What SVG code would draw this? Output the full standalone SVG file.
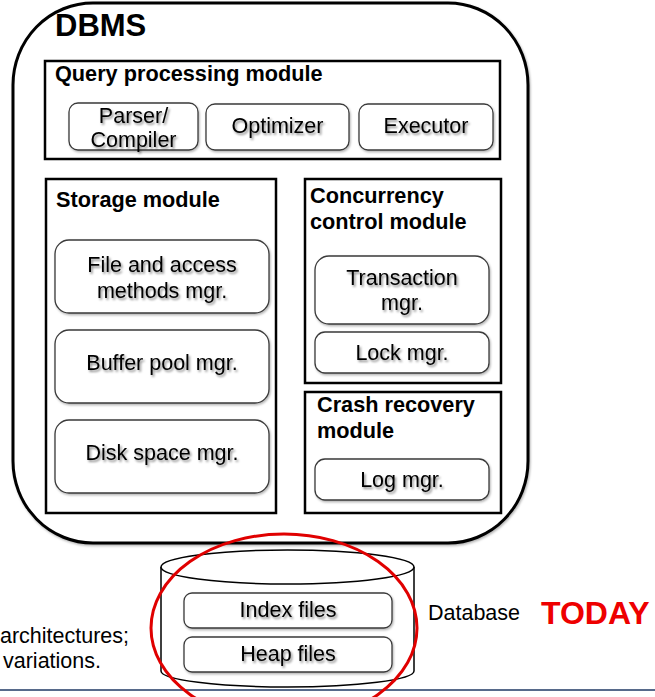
<svg xmlns="http://www.w3.org/2000/svg" width="655" height="697" viewBox="0 0 655 697">
<defs>
<filter id="ts" x="-10%" y="-30%" width="130%" height="170%">
<feDropShadow dx="1.5" dy="2" stdDeviation="1" flood-color="#000" flood-opacity="0.45"/>
</filter>
<filter id="bs" x="-5%" y="-10%" width="115%" height="130%">
<feDropShadow dx="1" dy="1.5" stdDeviation="1" flood-color="#000" flood-opacity="0.3"/>
</filter>
</defs>
<style>
text{font-family:"Liberation Sans",Arial,sans-serif;fill:#000}
.title{font-weight:bold;font-size:21.7px}
.lbl{font-size:21.5px;text-anchor:middle;filter:url(#ts)}
.mod{fill:#fff;stroke:#000;stroke-width:2.5}
.box{fill:#fff;stroke:#3a3a3a;stroke-width:1.3;filter:url(#bs)}
.plain{font-size:21.5px}
</style>
<rect width="655" height="697" fill="#fff"/>

<g id="dbms">
<rect x="13" y="3" width="515" height="540" rx="80" ry="82" fill="#fff" stroke="#000" stroke-width="3" filter="url(#bs)"/>
<text x="55" y="36" style="font-weight:bold;font-size:31px">DBMS</text>
</g>

<g id="query-module">
<rect class="mod" x="45" y="61" width="455" height="98"/>
<text class="title" x="55" y="81">Query processing module</text>
</g>
<g id="parser">
<rect class="box" x="69" y="103" width="129" height="47" rx="9"/>
<text class="lbl" x="133.5" y="123">Parser/</text>
<text class="lbl" x="133.5" y="147">Compiler</text>
</g>
<g id="optimizer">
<rect class="box" x="206" y="104" width="143" height="46" rx="9"/>
<text class="lbl" x="277.5" y="133">Optimizer</text>
</g>
<g id="executor">
<rect class="box" x="359" y="104" width="134" height="46" rx="9"/>
<text class="lbl" x="426" y="133">Executor</text>
</g>

<g id="storage-module">
<rect class="mod" x="46" y="179" width="230" height="334"/>
<text class="title" x="56" y="207">Storage module</text>
</g>
<g id="file-access">
<rect class="box" x="55" y="240" width="214" height="73" rx="14"/>
<text class="lbl" x="162" y="272">File and access</text>
<text class="lbl" x="162" y="298">methods mgr.</text>
</g>
<g id="buffer-pool">
<rect class="box" x="55" y="330" width="214" height="73" rx="14"/>
<text class="lbl" x="162" y="370">Buffer pool mgr.</text>
</g>
<g id="disk-space">
<rect class="box" x="55" y="420" width="214" height="73" rx="14"/>
<text class="lbl" x="162" y="460">Disk space mgr.</text>
</g>

<g id="concurrency-module">
<rect class="mod" x="305" y="179" width="196" height="204"/>
<text class="title" x="310" y="203">Concurrency</text>
<text class="title" x="310" y="229">control module</text>
</g>
<g id="transaction">
<rect class="box" x="315" y="256" width="174" height="68" rx="14"/>
<text class="lbl" x="402" y="285">Transaction</text>
<text class="lbl" x="402" y="310">mgr.</text>
</g>
<g id="lock">
<rect class="box" x="315" y="332" width="174" height="41" rx="10"/>
<text class="lbl" x="402" y="360">Lock mgr.</text>
</g>

<g id="crash-module">
<rect class="mod" x="305" y="392" width="196" height="121"/>
<text class="title" x="317" y="412">Crash recovery</text>
<text class="title" x="317" y="438">module</text>
</g>
<g id="log">
<rect class="box" x="315" y="459" width="174" height="41" rx="10"/>
<text class="lbl" x="402" y="487">Log mgr.</text>
</g>

<g id="database">
<path d="M161,567 L161,671 A126.5,16 0 0 0 414,671 L414,567" fill="#fff" stroke="#000" stroke-width="1.5"/>
<ellipse cx="287.5" cy="567" rx="126.5" ry="17" fill="#fff" stroke="#000" stroke-width="1.5"/>
<text class="plain" x="428" y="620">Database</text>
</g>
<g id="index-files">
<rect class="box" x="184" y="593" width="208" height="35" rx="8"/>
<text class="lbl" x="288" y="617">Index files</text>
</g>
<g id="heap-files">
<rect class="box" x="184" y="637" width="208" height="35" rx="8"/>
<text class="lbl" x="288" y="661">Heap files</text>
</g>

<g id="annotations">
<line x1="0" y1="690" x2="655" y2="690" stroke="#1f3864" stroke-width="1.5"/>
<ellipse cx="284" cy="628" rx="133" ry="94" fill="none" stroke="#e00000" stroke-width="3"/>
<text x="541" y="624" style="font-weight:bold;font-size:32px;fill:#ee0000">TODAY</text>
<text class="plain" x="0" y="643">architectures;</text>
<text class="plain" x="3" y="668">variations.</text>
</g>
</svg>
